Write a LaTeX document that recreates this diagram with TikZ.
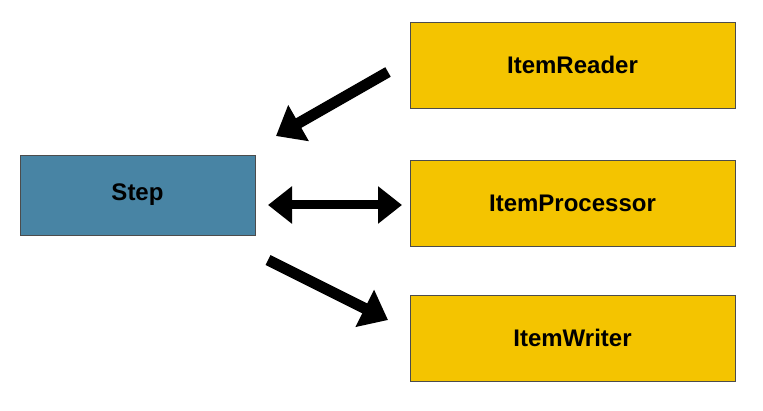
\documentclass[tikz,border=0pt]{standalone}
\usepackage{fontspec}
\setmainfont{Liberation Sans}
\usetikzlibrary{arrows.meta}
\definecolor{stepblue}{RGB}{72,132,164}
\definecolor{itemyellow}{RGB}{244,196,0}
\tikzstyle{stepbox} = [rectangle, minimum width=235pt, minimum height=80pt, text centered, draw=black!70, fill=stepblue, font=\fontsize{24}{28}\bfseries]
\tikzstyle{itembox} = [rectangle, minimum width=325pt, minimum height=86pt, text centered, draw=black!70, fill=itemyellow, font=\fontsize{24}{28}\bfseries]
\tikzstyle{arrow} = [line width=11pt, -{Triangle[length=26pt,width=40pt]}]
\tikzstyle{dblarrow} = [line width=9pt, {Triangle[length=24pt,width=36pt]}-{Triangle[length=24pt,width=36pt]}]

\begin{document}
\begin{tikzpicture}[x=1pt,y=-1pt]
\useasboundingbox (0,0) rectangle (763,411);
\node (step) [stepbox] at (137.5,195) {Step};
\node (reader) [itembox] at (572.5,65) {ItemReader};
\node (processor) [itembox] at (572.5,203) {ItemProcessor};
\node (writer) [itembox] at (572.5,338) {ItemWriter};

\coordinate (rs) at (388,72);
\coordinate (re) at (276,136);
\coordinate (ps) at (268,205);
\coordinate (pe) at (402,205);
\coordinate (ws) at (268,260);
\coordinate (we) at (388,320);

\draw [arrow] (rs) -- (re);
\draw [dblarrow] (ps) -- (pe);
\draw [arrow] (ws) -- (we);
\end{tikzpicture}
\end{document}
